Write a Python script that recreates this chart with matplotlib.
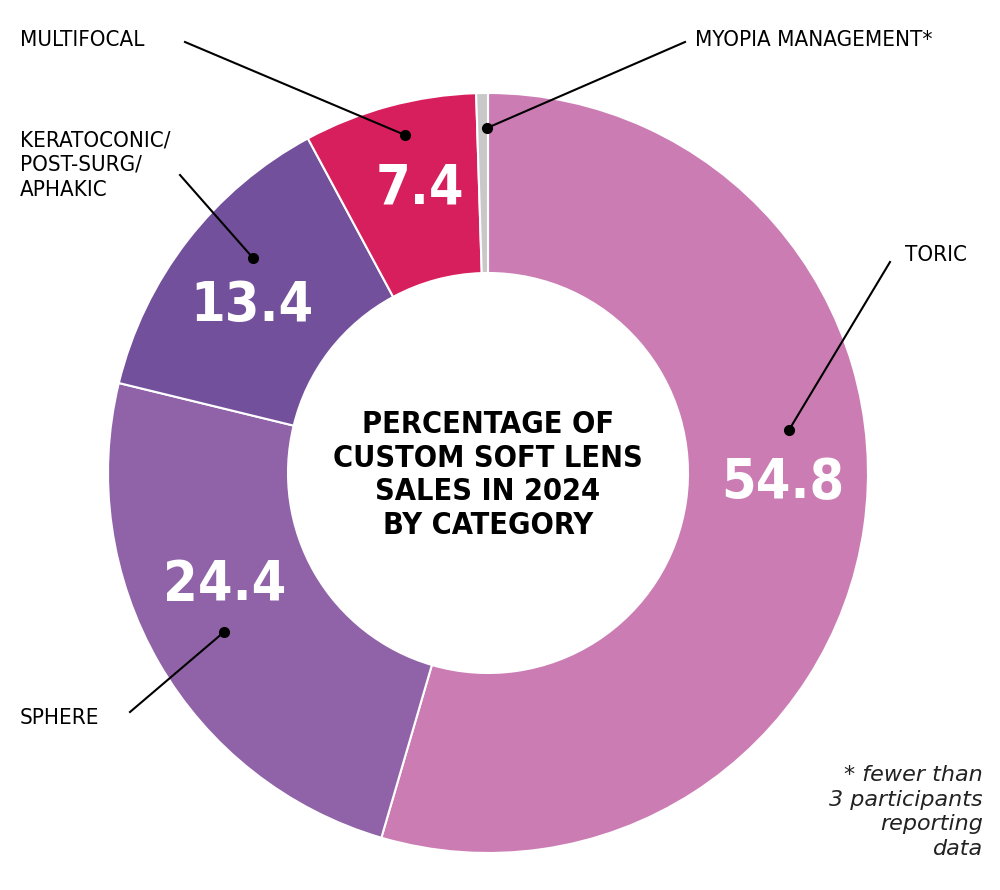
import matplotlib.pyplot as plt

categories = ["TORIC", "SPHERE", "KERATOCONIC/\nPOST-SURG/\nAPHAKIC", "MULTIFOCAL", "MYOPIA MANAGEMENT*"]
values = [54.8, 24.4, 13.4, 7.4, 0.5]
value_labels = ["54.8", "24.4", "13.4", "7.4", ""]
colors = ["#CB7DB3", "#9063A8", "#73509C", "#D81F5E", "#C8C8C8"]

H = 890
fam = ["DejaVu Sans"]

fig = plt.figure(figsize=(10, 8.9), dpi=100)
ax = fig.add_axes([0, 0, 1, 1])

cx, cy, r = 488, H - 473, 380
ax.pie(values, colors=colors, startangle=90, counterclock=False, center=(cx, cy),
       radius=r, wedgeprops=dict(width=180, edgecolor="white", linewidth=1.5),
       frame=True)
ax.set_xlim(0, 1000)
ax.set_ylim(0, H)
ax.set_aspect("equal")
ax.axis("off")

# value labels inside wedges
num_pos = [(783, 483), (225, 585), (252, 306), (420, 188)]
for (x, y), t in zip(num_pos, value_labels):
    ax.text(x, H - y, t, color="white", fontsize=40, fontweight="bold",
            family=fam, stretch="condensed", ha="center", va="center")

# leader lines: dot, line end, text position
leaders = [
    ((789, 430), (890, 262), (905, 255)),
    ((224, 632), (130, 712), (20, 718)),
    ((253, 258), (180, 175), (20, 165)),
    ((405, 135), (185, 42), (20, 40)),
    ((487, 128), (685, 42), (695, 40)),
]
for (dot, end, tpos), label in zip(leaders, categories):
    ax.plot([dot[0], end[0]], [H - dot[1], H - end[1]], color="black", lw=1.5)
    ax.plot(dot[0], H - dot[1], "o", color="black", ms=7)
    ax.text(tpos[0], H - tpos[1], label, fontsize=16, family=fam,
            stretch="condensed", ha="left", va="center", linespacing=1.3)

ax.text(cx, H - 475, "PERCENTAGE OF\nCUSTOM SOFT LENS\nSALES IN 2024\nBY CATEGORY",
        fontsize=22, fontweight="bold", family=fam, stretch="condensed",
        ha="center", va="center", linespacing=1.2)

ax.text(983, H - 812, "* fewer than\n3 participants\nreporting\ndata", fontsize=16,
        style="italic", family=fam, ha="right", va="center", color="#222222",
        linespacing=1.3)

fig.savefig("out.png", dpi=100, facecolor="white")
